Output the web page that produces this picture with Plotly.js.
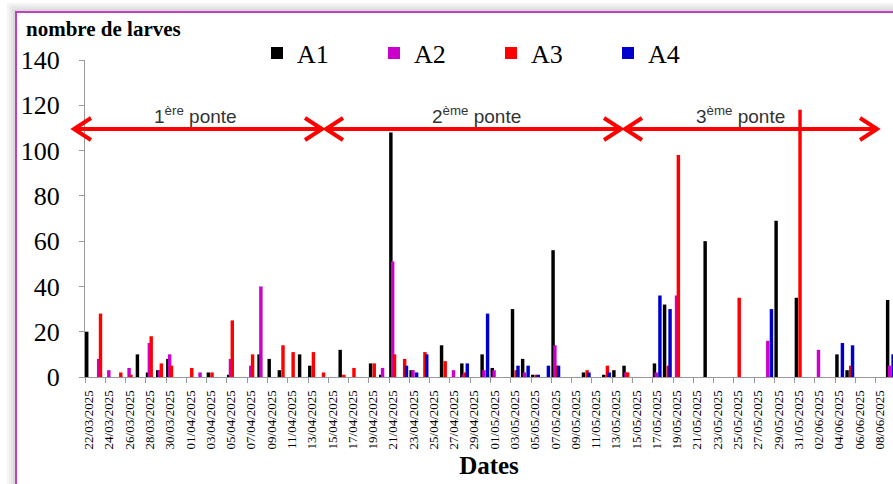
<!DOCTYPE html>
<html>
<head>
<meta charset="utf-8">
<script src="https://cdn.plot.ly/plotly-3.0.1.min.js"></script>
<style>html,body{margin:0;padding:0;background:#fff;}#chart{width:893px;height:484px;}</style>
</head>
<body>
<div id="chart"></div>
<script>
// ---- data (days with observations) ----
const dates = ['2025-03-22','2025-03-23','2025-03-24','2025-03-25','2025-03-26','2025-03-27','2025-03-28','2025-03-29','2025-03-30',
  '2025-04-01','2025-04-02','2025-04-03','2025-04-05','2025-04-07','2025-04-08','2025-04-09','2025-04-10','2025-04-11','2025-04-12',
  '2025-04-13','2025-04-14','2025-04-16','2025-04-17','2025-04-19','2025-04-20','2025-04-21','2025-04-22','2025-04-23','2025-04-24',
  '2025-04-26','2025-04-27','2025-04-28','2025-04-30','2025-05-01','2025-05-03','2025-05-04','2025-05-05','2025-05-06','2025-05-07',
  '2025-05-10','2025-05-12','2025-05-13','2025-05-14','2025-05-17','2025-05-18','2025-05-19','2025-05-22','2025-05-25','2025-05-28',
  '2025-05-29','2025-05-31','2025-06-02','2025-06-04','2025-06-05','2025-06-09'];
const a1 = [20,0,0,0,0,10,2,3,8, 0,0,2,1,0,10,8,3,0,10, 5,0,12,0,6,1,108,0,3,0, 14,0,6,10,4,30,8,1,0,56, 2,1,3,5,6,32,0,60,0,0, 69,35,0,10,3,34];
const a2 = [0,8,3,0,4,0,15,3,10, 0,2,0,8,5,40,0,0,0,0, 0,0,0,0,0,4,51,0,3,0, 0,3,1,3,3,0,2,0,0,14, 0,0,0,2,2,0,36,0,0,16, 0,0,12,0,0,5];
const a3 = [0,28,0,2,1,0,18,6,5, 4,0,2,25,10,0,0,14,11,0, 11,2,1,4,6,0,10,8,0,11, 7,0,2,0,0,3,0,1,0,5, 3,5,0,2,0,5,98,0,35,0, 0,118,0,0,5,0];
const a4 = [0,0,0,0,0,0,0,0,0, 0,0,0,0,0,0,0,0,0,0, 0,0,0,0,0,0,0,5,2,10, 0,0,6,28,0,5,5,1,5,5, 2,2,0,0,36,30,0,0,0,30, 0,0,0,15,14,10];
const seriesNames = ['A1','A2','A3','A4'];
const yTicks = [0,20,40,60,80,100,120,140];
const ponteLabels = ['1<sup>ère</sup> ponte','2<sup>ème</sup> ponte','3<sup>ème</sup> ponte'];

// ---- layout helpers ----
const DAY = 86400000;
const colors = ['#000000','#CC00CC','#FF0000','#0000CC'];
const values = [a1,a2,a3,a4];
const traces = values.map((v,k)=>({
  type:'bar', x:dates, y:v, name:seriesNames[k],
  marker:{color:colors[k], line:{width:0}},
  offset: k*0.18*DAY, width: 0.34*DAY,
  hoverinfo:'x+y+name'
}));

// plot area in pixels: left 85, right 893, top 60, bottom 377
const PL=85, PR=893, PT=60, PB=377;
function px(x){return (x-PL)/(PR-PL);}
function py(y){return (PB-y)/(PB-PT);}

const shapes = [];
// frame shadow + purple frame
[[8,4,'rgba(0,0,0,0.04)'],[10,6,'rgba(0,0,0,0.07)'],[12,8,'rgba(0,0,0,0.10)'],[14,10,'rgba(0,0,0,0.14)']].forEach(s=>{
  shapes.push({type:'rect',xref:'paper',yref:'paper',x0:px(s[0]),y0:py(s[1]),x1:px(930),y1:py(530),line:{color:s[2],width:2},layer:'below'});
});
shapes.push({type:'rect',xref:'paper',yref:'paper',x0:px(16),y0:py(12),x1:px(930),y1:py(530),line:{color:'#C040C0',width:2}});

// ponte arrows
const arrows = [[74,322],[326,621],[625,877]];
const AY = 129, AH = 17, AV = 11;
arrows.forEach(a=>{
  const [l,r]=a;
  shapes.push({type:'line',xref:'paper',yref:'paper',x0:px(l+1),y0:py(AY),x1:px(r-1),y1:py(AY),line:{color:'#FF0000',width:4}});
  shapes.push({type:'path',xref:'paper',yref:'paper',
    path:`M${px(l+AH)},${py(AY-AV)} L${px(l)},${py(AY)} L${px(l+AH)},${py(AY+AV)}`,line:{color:'#FF0000',width:4}});
  shapes.push({type:'path',xref:'paper',yref:'paper',
    path:`M${px(r-AH)},${py(AY-AV)} L${px(r)},${py(AY)} L${px(r-AH)},${py(AY+AV)}`,line:{color:'#FF0000',width:4}});
});

const ponteX = [195,476,740];
const annotations = ponteLabels.map((t,i)=>({
  text:t, xref:'paper', yref:'paper', x:px(ponteX[i]), y:py(115), xanchor:'center', yanchor:'middle',
  showarrow:false, font:{family:'Liberation Sans, Arial, sans-serif', size:19, color:'#333333'}
}));
annotations.push({text:'<b>nombre de larves</b>', xref:'paper', yref:'paper', x:px(24), y:py(29),
  xanchor:'left', yanchor:'middle', showarrow:false, font:{family:'Liberation Serif, Times New Roman, serif', size:21, color:'#000'}});

const layout = {
  width:893, height:484,
  margin:{l:PL, r:0, t:PT, b:484-PB, pad:0, autoexpand:false},
  paper_bgcolor:'#ffffff', plot_bgcolor:'#ffffff',
  font:{family:'Liberation Serif, Times New Roman, serif', color:'#000'},
  barmode:'overlay',
  showlegend:true,
  legend:{orientation:'h', x:px(257), xanchor:'left', y:py(53), yanchor:'middle',
    font:{family:'Liberation Serif, Times New Roman, serif', size:26, color:'#000'},
    bgcolor:'rgba(0,0,0,0)', entrywidth:72, entrywidthmode:'pixels', itemwidth:30, traceorder:'normal'},
  xaxis:{type:'date', range:['2025-03-22', '2025-06-09 16:48'], tick0:'2025-03-22', dtick:2*DAY,
    tickformat:'%d/%m/%Y', tickangle:-90, ticks:'outside', ticklen:5, tickcolor:'#999', tickwidth:1,
    showline:true, linecolor:'#999', linewidth:1, showgrid:false, zeroline:false, automargin:false,
    ticklabelshift:4, ticklabelstandoff:2,
    tickfont:{family:'Liberation Serif, Times New Roman, serif', size:13, color:'#000'},
    title:{text:'<b>Dates</b>', font:{family:'Liberation Serif, Times New Roman, serif', size:25, color:'#000'}, standoff:8}},
  yaxis:{range:[0,140], tickvals:yTicks, ticks:'outside', ticklen:5, tickcolor:'#999', tickwidth:1,
    showline:true, linecolor:'#999', linewidth:1, showgrid:false, zeroline:false, automargin:false,
    ticklabelstandoff:14,
    tickfont:{family:'Liberation Serif, Times New Roman, serif', size:26, color:'#000'}},
  shapes:shapes,
  annotations:annotations
};
Plotly.newPlot('chart', traces, layout, {staticPlot:true, displayModeBar:false});
</script>
</body>
</html>
